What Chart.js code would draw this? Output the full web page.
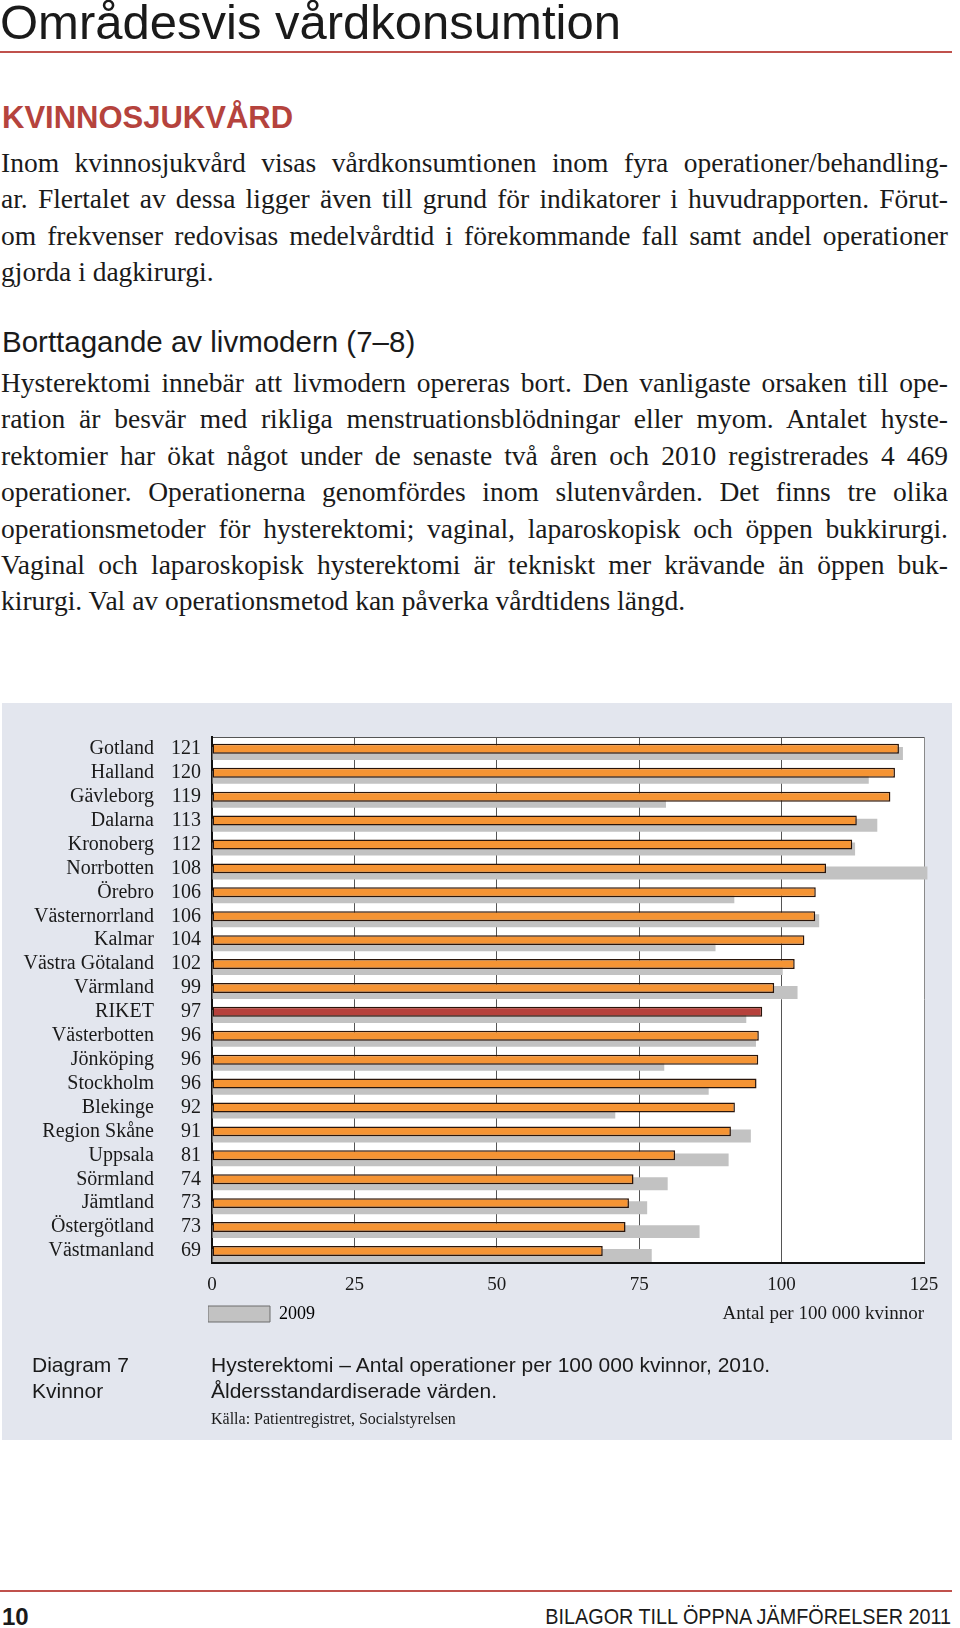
<!DOCTYPE html>
<html lang="sv">
<head>
<meta charset="UTF-8">
<title>Områdesvis vårdkonsumtion</title>
<script src="https://cdn.jsdelivr.net/npm/chart.js"></script>
<style>
  body { margin: 0; background: #fff; }
  #page { position: relative; width: 960px; height: 1628px; overflow: hidden; color: #1a1a1a; }
  .sans { font-family: "Liberation Sans", Arial, sans-serif; }
  .serif { font-family: "Liberation Serif", "Times New Roman", serif; }
  .abs { position: absolute; white-space: nowrap; line-height: 1; }
  .rule { position: absolute; left: 0; width: 952px; height: 2px; background: #c0514c; }
  .para { position: absolute; left: 1px; width: 947px; font-size: 27.5px; line-height: 36.4px; }
  .para div { white-space: nowrap; }
  #panel { position: absolute; left: 2px; top: 703px; width: 950px; height: 737px; background: #e3e6ee; }
  #chartBox { position: absolute; left: 0; top: 703px; }
</style>
</head>
<body>
<div id="page">
  <div class="abs sans" style="left:0; top:-2px; font-size:49px;">Områdesvis vårdkonsumtion</div>
  <div class="rule" style="top:51px;"></div>

  <div class="abs sans" style="left:2px; top:102px; font-size:31px; font-weight:bold; color:#b5433d;">KVINNOSJUKVÅRD</div>

  <div class="para serif" style="top:145px;">
    <div class="j"><span>Inom kvinnosjukvård visas vårdkonsumtionen inom fyra operationer/behandling-</span></div>
    <div class="j"><span>ar. Flertalet av dessa ligger även till grund för indikatorer i huvudrapporten. Förut-</span></div>
    <div class="j"><span>om frekvenser redovisas medelvårdtid i förekommande fall samt andel operationer</span></div>
    <div><span>gjorda i dagkirurgi.</span></div>
  </div>

  <div class="abs sans" style="left:2px; top:327px; font-size:29.5px;">Borttagande av livmodern (7–8)</div>

  <div class="para serif" style="top:365px;">
    <div class="j"><span>Hysterektomi innebär att livmodern opereras bort. Den vanligaste orsaken till ope-</span></div>
    <div class="j"><span>ration är besvär med rikliga menstruationsblödningar eller myom. Antalet hyste-</span></div>
    <div class="j"><span>rektomier har ökat något under de senaste två åren och 2010 registrerades 4 469</span></div>
    <div class="j"><span>operationer. Operationerna genomfördes inom slutenvården. Det finns tre olika</span></div>
    <div class="j"><span>operationsmetoder för hysterektomi; vaginal, laparoskopisk och öppen bukkirurgi.</span></div>
    <div class="j"><span>Vaginal och laparoskopisk hysterektomi är tekniskt mer krävande än öppen buk-</span></div>
    <div><span>kirurgi. Val av operationsmetod kan påverka vårdtidens längd.</span></div>
  </div>

  <div id="panel"></div>
  <div id="chartBox"><canvas id="myChart" width="952" height="650"></canvas></div>

  <div class="abs sans" style="left:32px; top:1352px; font-size:21px; line-height:26px;">Diagram 7<br>Kvinnor</div>
  <div class="abs sans" style="left:211px; top:1352px; font-size:21px; line-height:26px;">Hysterektomi – Antal operationer per 100 000 kvinnor, 2010.<br>Åldersstandardiserade värden.</div>
  <div class="abs serif" style="left:211px; top:1411px; font-size:16px;">Källa: Patientregistret, Socialstyrelsen</div>

  <div class="rule" style="top:1590px;"></div>
  <div class="abs sans" style="left:2px; top:1605px; font-size:24px; font-weight:bold;">10</div>
  <div class="abs sans" style="right:9px; top:1606px; font-size:22.5px; transform:scaleX(0.88); transform-origin:right center;">BILAGOR TILL ÖPPNA JÄMFÖRELSER 2011</div>
</div>

<script>
  // regions, sorted as in the figure
  const categories = ['Gotland', 'Halland', 'Gävleborg', 'Dalarna', 'Kronoberg', 'Norrbotten', 'Örebro',
    'Västernorrland', 'Kalmar', 'Västra Götaland', 'Värmland', 'RIKET', 'Västerbotten', 'Jönköping',
    'Stockholm', 'Blekinge', 'Region Skåne', 'Uppsala', 'Sörmland', 'Jämtland', 'Östergötland', 'Västmanland'];

  // operationer per 100 000 kvinnor, 2010 (orange) och 2009 (grå)
  const values2010 = [120.6, 119.9, 119.1, 113.2, 112.4, 107.8, 106.0, 105.9, 104.0, 102.3, 98.7,
    96.6, 96.0, 95.9, 95.6, 91.8, 91.1, 81.3, 74.0, 73.2, 72.6, 68.6];
  const values2009 = [121.3, 115.3, 79.7, 116.8, 112.9, 125.6, 91.7, 106.6, 88.4, 100.2, 102.8,
    93.8, 95.5, 79.4, 87.2, 70.8, 94.6, 90.7, 80.0, 76.4, 85.6, 77.2];

  // value column printed next to the names
  const labels2010 = ['121', '120', '119', '113', '112', '108', '106', '106', '104', '102', '99',
    '97', '96', '96', '96', '92', '91', '81', '74', '73', '73', '69'];

  const xMin = 0, xMax = 125, xStep = 25;

  const orange = '#f59434';
  const riketRed = '#b6413b';
  const gray2009 = '#c2c2c2';
  const serif = '"Liberation Serif", "Times New Roman", serif';

  // justify the body text lines like the printed page
  function justifyLines() {
    document.querySelectorAll('.para').forEach(p => {
      const target = p.clientWidth;
      p.querySelectorAll('div.j span').forEach(span => {
        const spaces = (span.textContent.match(/ /g) || []).length;
        const w = span.getBoundingClientRect().width;
        if (spaces) span.style.wordSpacing = ((target - w) / spaces) + 'px';
      });
    });
  }

  const plotBackground = {
    id: 'plotBackground',
    beforeDraw(chart) {
      const {ctx, chartArea: a} = chart;
      ctx.save();
      ctx.fillStyle = '#ffffff';
      ctx.fillRect(a.left, a.top, a.right - a.left, a.bottom - a.top);
      ctx.restore();
    }
  };

  // legend sits on the row of the axis title, under the plot's left edge
  const legendPlace = {
    id: 'legendPlace',
    afterLayout(chart) {
      const lg = chart.legend;
      const w = lg.right - lg.left, h = lg.bottom - lg.top;
      lg.left = chart.chartArea.left - 4;
      lg.right = lg.left + w;
      lg.top = chart.chartArea.bottom + 42;
      lg.bottom = lg.top + h;
    }
  };

  function drawChart() {
    const ctx = document.getElementById('myChart').getContext('2d');
    new Chart(ctx, {
      type: 'bar',
      data: {
        labels: categories,
        datasets: [
          {
            label: '2010',
            data: values2010,
            backgroundColor: categories.map(c => c === 'RIKET' ? riketRed : orange),
            borderColor: '#2a150a',
            borderWidth: 1.5,
            borderSkipped: false,
            categoryPercentage: 0.02,
            barPercentage: 10 / (24 * 0.02 / 2)
          },
          {
            label: '2009',
            data: values2009,
            backgroundColor: gray2009,
            borderWidth: 0,
            categoryPercentage: 0.75,
            barPercentage: 13 / 9,
            clip: false
          }
        ]
      },
      options: {
        indexAxis: 'y',
        responsive: false,
        animation: false,
        layout: { padding: { top: 34, right: 28, left: 0, bottom: 0 } },
        scales: {
          x: {
            type: 'linear',
            min: xMin,
            max: xMax,
            ticks: { stepSize: xStep, padding: 11, color: '#1a1a1a', font: { family: serif, size: 19 } },
            grid: {
              drawTicks: false,
              lineWidth: 1,
              color: c => {
                const v = c.tick ? c.tick.value : null;
                if (v === xMin) return 'rgba(0,0,0,0)';
                if (v === xMax) return '#8a8a8a';
                return '#555555';
              }
            },
            border: { display: true, color: '#111111', width: 2 },
            title: {
              display: true,
              text: 'Antal per 100 000 kvinnor',
              align: 'end',
              color: '#1a1a1a',
              font: { family: serif, size: 19 },
              padding: { top: 0, bottom: 0 }
            },
            afterFit: s => { s.height = 62; }
          },
          y: {
            type: 'category',
            position: 'left',
            weight: 1,
            offset: true,
            ticks: { autoSkip: false, padding: 6, color: '#1a1a1a', font: { family: serif, size: 20 } },
            grid: {
              offset: true,
              drawTicks: false,
              lineWidth: 1,
              color: c => c.index === 0 ? '#555555' : 'rgba(0,0,0,0)'
            },
            border: { display: false },
            afterFit: s => { s.width = 160; }
          },
          yv: {
            type: 'category',
            labels: labels2010,
            position: 'left',
            weight: 0,
            offset: true,
            ticks: { autoSkip: false, padding: 11, color: '#1a1a1a', font: { family: serif, size: 20 } },
            grid: { offset: true, drawTicks: false, color: 'rgba(0,0,0,0)' },
            border: { display: true, color: '#111111', width: 2 },
            afterFit: s => { s.width = 52; }
          }
        },
        plugins: {
          legend: {
            position: 'bottom',
            align: 'start',
            onClick: null,
            labels: {
              boxWidth: 62,
              boxHeight: 16,
              padding: 0,
              color: '#1a1a1a',
              font: { family: serif, size: 18 },
              generateLabels: () => [{
                text: '2009', fillStyle: gray2009, strokeStyle: '#6d6d6d', lineWidth: 1,
                datasetIndex: 1, hidden: false
              }]
            }
          },
          tooltip: { enabled: false }
        }
      },
      plugins: [plotBackground, legendPlace]
    });
  }

  document.fonts.ready.then(() => {
    justifyLines();
    drawChart();
  });
</script>
</body>
</html>
